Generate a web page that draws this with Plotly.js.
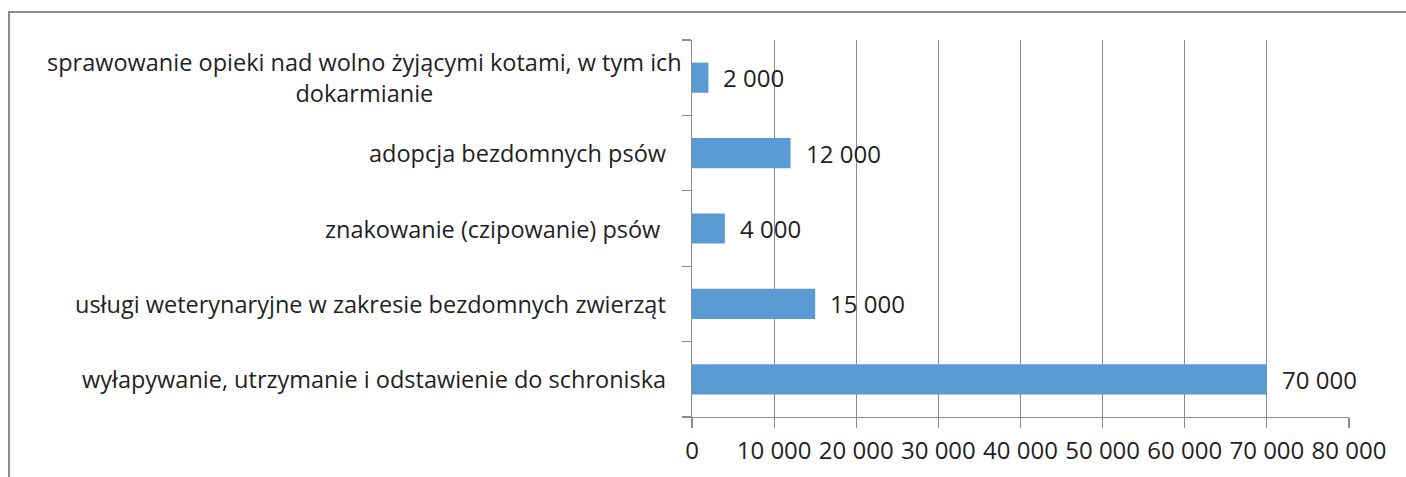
<!DOCTYPE html>
<html>
<head>
<meta charset="utf-8">
<script src="https://cdn.plot.ly/plotly-3.0.1.min.js"></script>
<style>
  html, body { margin: 0; padding: 0; background: #fff; }
  #wrap { position: relative; width: 1406px; height: 477px; overflow: hidden; }
  #chart { position: absolute; left: 0; top: 0; width: 1406px; height: 477px; }
  #frame { position: absolute; left: 8px; top: 11px; width: 1420px; height: 500px;
           border-top: 2px solid #8c8c8c; border-left: 2px solid #8c8c8c; pointer-events: none; }
</style>
</head>
<body>
<div id="wrap">
  <div id="chart"></div>
  <div id="frame"></div>
</div>
<script>
// Data (bottom to top)
var categories = [
  "wyłapywanie, utrzymanie i odstawienie do schroniska",
  "usługi weterynaryjne w zakresie bezdomnych zwierząt",
  "znakowanie (czipowanie) psów ",
  "adopcja bezdomnych psów",
  "sprawowanie opieki nad wolno żyjącymi kotami, w tym ich<br>dokarmianie"
];
var values = [70000, 15000, 4000, 12000, 2000];
var xTickValues = [0, 10000, 20000, 30000, 40000, 50000, 60000, 70000, 80000];

function fmt(v) {
  return String(v).replace(/\B(?=(\d{3})+(?!\d))/g, " ");
}

var FONT = "'Open Sans', sans-serif";
var TXT = "#1f1f1f";
var GRID = "#8c8c8c";

var labelShifts = [-24, -24, -24, -24, -8];

var annotations = [];
categories.forEach(function (c, i) {
  annotations.push({
    xref: "paper", yref: "y", x: 0, y: c,
    text: c, showarrow: false, xanchor: "right", yanchor: "middle",
    align: "center", xshift: labelShifts[i],
    font: { family: FONT, size: 23.5, color: TXT }
  });
  annotations.push({
    xref: "x", yref: "y", x: values[i], y: c,
    text: fmt(values[i]), showarrow: false, xanchor: "left", yanchor: "middle",
    xshift: 13,
    font: { family: FONT, size: 24, color: TXT }
  });
});

var trace = {
  type: "bar",
  orientation: "h",
  x: values,
  y: categories,
  marker: { color: "#5b9bd5" },
  hoverinfo: "x+y"
};

var layout = {
  width: 1406,
  height: 477,
  margin: { l: 692, r: 57, t: 40, b: 60, pad: 0 },
  paper_bgcolor: "#ffffff",
  plot_bgcolor: "#ffffff",
  separators: ", ",
  bargap: 0.6,
  showlegend: false,
  font: { family: FONT, size: 23, color: TXT },
  xaxis: {
    range: [0, 80000],
    tickvals: xTickValues,
    ticktext: xTickValues.map(fmt),
    showgrid: true,
    gridcolor: GRID,
    gridwidth: 1.2,
    zeroline: false,
    showline: true,
    linecolor: GRID,
    linewidth: 1.2,
    ticks: "outside",
    ticklen: 10,
    tickcolor: GRID,
    tickwidth: 1.2,
    ticklabelstandoff: 2,
    tickfont: { family: FONT, size: 24, color: TXT },
    fixedrange: true
  },
  yaxis: {
    type: "category",
    categoryorder: "array",
    categoryarray: categories,
    showgrid: false,
    zeroline: false,
    showline: true,
    linecolor: GRID,
    linewidth: 1.2,
    ticks: "outside",
    tickson: "boundaries",
    ticklen: 9,
    tickcolor: GRID,
    tickwidth: 1.2,
    showticklabels: false,
    fixedrange: true
  },
  annotations: annotations
};

Plotly.newPlot("chart", [trace], layout, { displayModeBar: false, staticPlot: true });
</script>
</body>
</html>
